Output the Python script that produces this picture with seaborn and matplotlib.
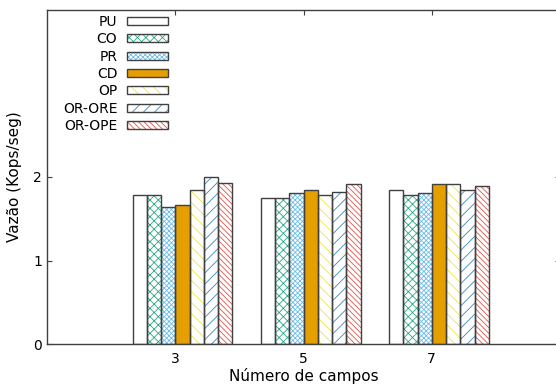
import matplotlib
matplotlib.use("Agg")
import matplotlib.pyplot as plt
import seaborn as sns
import pandas as pd
from matplotlib.patches import Patch

campos = ["3", "5", "7"]
metodos = ["PU", "CO", "PR", "CD", "OP", "OR-ORE", "OR-OPE"]
vals_3 = [1.79, 1.79, 1.64, 1.67, 1.85, 2.00, 1.93]
vals_5 = [1.75, 1.75, 1.81, 1.85, 1.79, 1.82, 1.92]
vals_7 = [1.85, 1.78, 1.81, 1.92, 1.92, 1.85, 1.89]
yticks = [0, 1, 2]

hatch_colors = ["#9400d3", "#2aa884", "#6cbde9", "#e69f00", "#f0e442", "#3a86c0", "#e0544a"]
face_colors = ["white", "white", "white", "#e69f00", "white", "white", "white"]
hatches = ["", "xxxx", "xxxxxxx", "", "\\\\\\", "///", "\\\\\\\\\\\\"]
edge_dark = "#404040"

rows = []
for c, vals in zip(campos, [vals_3, vals_5, vals_7]):
    for m, v in zip(metodos, vals):
        rows.append({"campos": c, "metodo": m, "vazao": v})
df = pd.DataFrame(rows)

plt.rcParams["hatch.linewidth"] = 0.6
plt.rcParams["font.family"] = ["DejaVu Sans"]

fig = plt.figure(figsize=(5.56, 3.85), dpi=100)
W, H = 556, 385
ax = fig.add_axes([47 / W, (H - 344) / H, (560 - 47) / W, (344 - 10) / H])

nbars = len(metodos)
width = nbars / 9.0
bw = width / nbars

# layer 1: fills and hatches
sns.barplot(data=df, x="campos", y="vazao", hue="metodo", order=campos,
            hue_order=metodos, palette=hatch_colors, width=width,
            errorbar=None, legend=False, ax=ax)
for i, cont in enumerate(ax.containers[:nbars]):
    for p in cont:
        p.set_facecolor(face_colors[i])
        p.set_edgecolor(hatch_colors[i])
        p.set_hatch(hatches[i])
        p.set_linewidth(0)

# layer 2: outlines
sns.barplot(data=df, x="campos", y="vazao", hue="metodo", order=campos,
            hue_order=metodos, palette=hatch_colors, width=width,
            errorbar=None, legend=False, ax=ax)
for i, cont in enumerate(ax.containers[nbars:2 * nbars]):
    for p in cont:
        p.set_facecolor("none")
        p.set_edgecolor(edge_dark)
        p.set_linewidth(1.0)

# gnuplot-like layout: tick sits half a bar left of group centre
tick_pos = [k - bw / 2 for k in range(len(campos))]
ax.set_xticks(tick_pos)
ax.set_xticklabels(campos)
ax.set_xlim(tick_pos[0] - 1.0, tick_pos[-1] + 1.0)
ax.set_ylim(0, 4)
ax.set_yticks(yticks)
ax.set_yticklabels([str(t) for t in yticks])

ax.set_xlabel("Número de campos", fontsize=11, labelpad=1)
ax.set_ylabel("Vazão (Kops/seg)", fontsize=11, labelpad=8)
ax.tick_params(axis="both", direction="in", length=3.5, width=0.8,
               labelsize=10, colors=edge_dark, labelcolor="black",
               top=True, right=True)
ax.tick_params(axis="x", pad=6)
for s in ax.spines.values():
    s.set_color(edge_dark)
    s.set_linewidth(1.0)

handles = []
for i in range(nbars):
    h1 = Patch(facecolor=face_colors[i], edgecolor=hatch_colors[i],
               hatch=hatches[i], linewidth=0)
    h2 = Patch(facecolor="none", edgecolor=edge_dark, linewidth=1.0)
    handles.append((h1, h2))
fig.legend(handles, metodos, loc="upper right",
           bbox_to_anchor=(168 / W, 1 - 15 / H), markerfirst=False,
           frameon=False, fontsize=10, handlelength=2.95, handleheight=0.5,
           handletextpad=0.7, labelspacing=0.24, borderpad=0, borderaxespad=0)

fig.savefig("out.png", dpi=100)
